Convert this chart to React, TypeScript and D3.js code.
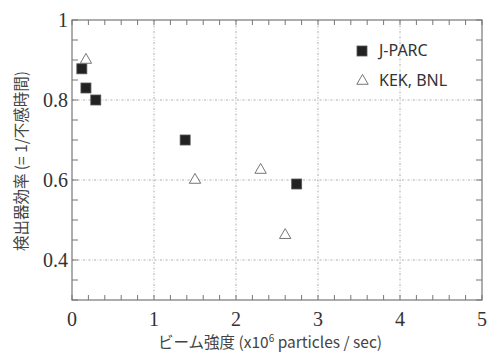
import React, { useEffect, useRef } from 'react';
import * as d3 from 'd3';

// J-PARC measurements (beam intensity x10^6 /s, efficiency)
const jparcX = [0.12, 0.17, 0.29, 1.38, 2.74];
const jparcY = [0.878, 0.83, 0.80, 0.70, 0.59];
// KEK, BNL measurements
const kekX = [0.17, 1.5, 2.3, 2.6];
const kekY = [0.90, 0.60, 0.625, 0.462];

const xTicks = [0, 1, 2, 3, 4, 5];
const yTicks = [0.4, 0.6, 0.8, 1];
const legendLabels = ['J-PARC', 'KEK, BNL'];

const App = () => {
  const ref = useRef<SVGSVGElement>(null);

  useEffect(() => {
    const svg = d3.select(ref.current);
    svg.selectAll('*').remove();

    const left = 72, right = 482, top = 20, bottom = 300;
    const x = d3.scaleLinear().domain([0, 5]).range([left, right]);
    const y = d3.scaleLinear().domain([0.3, 1]).range([bottom, top]);
    const axisColor = '#777';
    const textColor = '#333';
    const serif = "'Liberation Serif', 'DejaVu Serif', Times, serif";
    const sans = "'Noto Sans CJK JP', 'Noto Sans', sans-serif";

    // grid
    const grid = svg.append('g')
      .attr('stroke', '#999')
      .attr('stroke-width', 0.8)
      .attr('stroke-dasharray', '2,1.5,0.5,1.5');
    grid.selectAll('.gx')
      .data(xTicks.filter(d => d > 0 && d < 5))
      .join('line')
      .attr('x1', d => x(d)).attr('x2', d => x(d))
      .attr('y1', top).attr('y2', bottom);
    grid.selectAll('.gy')
      .data(yTicks.filter(d => d < 1))
      .join('line')
      .attr('y1', d => y(d)).attr('y2', d => y(d))
      .attr('x1', left).attr('x2', right);

    // minor ticks (inward)
    const tk = svg.append('g').attr('stroke', axisColor).attr('stroke-width', 1);
    const xMinor = d3.range(0, 5.001, 0.2);
    xMinor.forEach(v => {
      const len = 5;
      tk.append('line').attr('x1', x(v)).attr('x2', x(v)).attr('y1', bottom).attr('y2', bottom - len);
      tk.append('line').attr('x1', x(v)).attr('x2', x(v)).attr('y1', top).attr('y2', top + len);
    });
    const yMinor = d3.range(0.3, 1.001, 0.05);
    yMinor.forEach(v => {
      const len = 6;
      tk.append('line').attr('y1', y(v)).attr('y2', y(v)).attr('x1', left).attr('x2', left + len);
      tk.append('line').attr('y1', y(v)).attr('y2', y(v)).attr('x1', right).attr('x2', right - len);
    });

    // frame
    svg.append('rect')
      .attr('x', left).attr('y', top)
      .attr('width', right - left).attr('height', bottom - top)
      .attr('fill', 'none').attr('stroke', axisColor).attr('stroke-width', 1.2);

    // tick labels
    svg.append('g').selectAll('text')
      .data(xTicks)
      .join('text')
      .attr('x', d => x(d)).attr('y', bottom + 26)
      .attr('text-anchor', 'middle')
      .style('font-family', serif)
      .style('font-size', '20px')
      .attr('fill', textColor)
      .text(d => d);
    svg.append('g').selectAll('text')
      .data(yTicks)
      .join('text')
      .attr('x', left - 4).attr('y', d => y(d) + 7)
      .attr('text-anchor', 'end')
      .style('font-family', serif)
      .style('font-size', '20px')
      .attr('fill', textColor)
      .text(d => d);

    // axis titles
    const xt = svg.append('text')
      .attr('x', 270).attr('y', 348)
      .attr('text-anchor', 'middle')
      .style('font-family', sans)
      .style('font-size', '15.5px')
      .attr('fill', '#444');
    xt.append('tspan').text('ビーム強度 (x10');
    xt.append('tspan').style('font-size', '10px').attr('dy', -6).text('6');
    xt.append('tspan').attr('dy', 6).text(' particles / sec)');

    svg.append('text')
      .attr('transform', 'translate(27,161) rotate(-90)')
      .attr('text-anchor', 'middle')
      .style('font-family', sans)
      .style('font-size', '15.5px')
      .attr('fill', '#444')
      .text('検出器効率 (= 1/不感時間)');

    // markers
    const sq = 10;
    const jparc = jparcX.map((v, i) => ({ x: v, y: jparcY[i] }));
    const kek = kekX.map((v, i) => ({ x: v, y: kekY[i] }));
    const tri = d3.symbol().type(d3.symbolTriangle).size(56);

    svg.append('g').selectAll('rect')
      .data(jparc)
      .join('rect')
      .attr('x', d => x(d.x) - sq / 2).attr('y', d => y(d.y) - sq / 2)
      .attr('width', sq).attr('height', sq)
      .attr('fill', '#222').attr('stroke', '#555').attr('stroke-width', 0.8);

    svg.append('g').selectAll('path')
      .data(kek)
      .join('path')
      .attr('transform', d => `translate(${x(d.x)},${y(d.y)})`)
      .attr('d', tri)
      .attr('fill', '#fff').attr('stroke', '#666').attr('stroke-width', 0.9);

    // legend
    const lg = svg.append('g');
    lg.append('rect')
      .attr('x', 357).attr('y', 46).attr('width', 10).attr('height', 10)
      .attr('fill', '#222').attr('stroke', '#555').attr('stroke-width', 0.8);
    lg.append('path')
      .attr('transform', 'translate(362.5,81)')
      .attr('d', tri)
      .attr('fill', '#fff').attr('stroke', '#666').attr('stroke-width', 0.9);
    legendLabels.forEach((t, i) => {
      lg.append('text')
        .attr('x', 379).attr('y', 56 + i * 30)
        .style('font-family', "'Noto Sans', sans-serif")
        .style('font-size', '16px')
        .attr('fill', '#333')
        .text(t);
    });
  }, []);

  return (
    <svg ref={ref} width={488} height={354}
      style={{ position: 'absolute', left: 0, top: 0, background: '#fff' }} />
  );
};

export default App;
